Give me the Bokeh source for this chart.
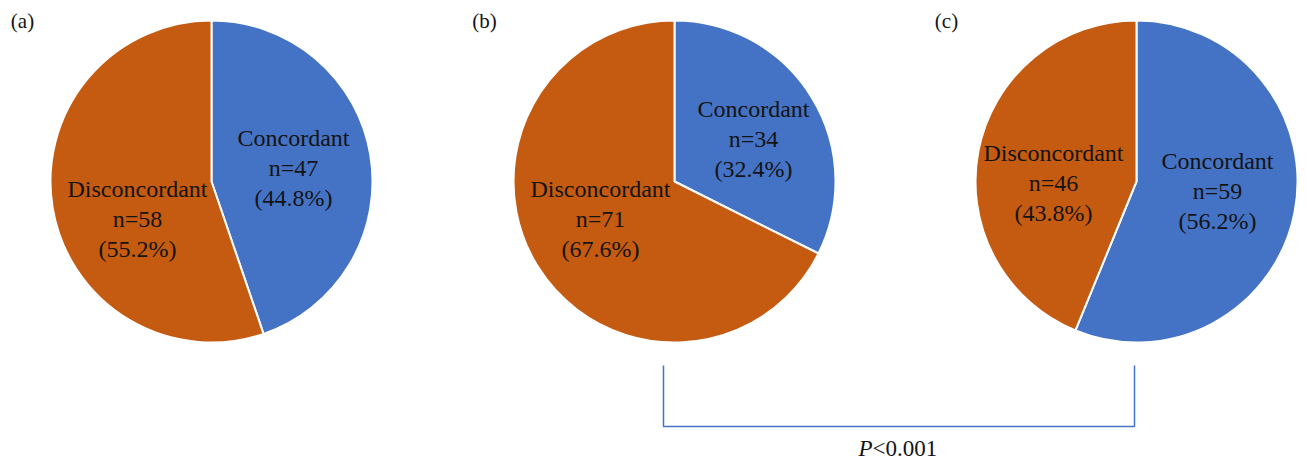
import math
from bokeh.plotting import figure
from bokeh.models import Range1d
from bokeh.core.properties import value
from bokeh.embed import file_html
from bokeh.resources import INLINE

# ---- data ----
panels = ["(a)", "(b)", "(c)"]
categories = ["Concordant", "Disconcordant"]
concordant_n = [47, 34, 59]
disconcordant_n = [58, 71, 46]
concordant_pct = [44.8, 32.4, 56.2]
disconcordant_pct = [55.2, 67.6, 43.8]
p_label_italic = "P"
p_label_rest = "<0.001"

# ---- layout (pixels of the figure) ----
W, H = 1306, 462
BLUE = "#4472C4"
ORANGE = "#C55A11"
TXT = "#141414"
FONT = "Liberation Serif"

centers_x = [211, 674, 1136]
center_y = 181
radius = 161
conc_label_pos = [(293, 137), (753, 108), (1217, 160)]
disc_label_pos = [(137, 188), (600, 188), (1053, 152)]
panel_label_pos = [(22, 20), (484, 20), (946, 20)]
line_gap = 30


def Y(py):
    return H - py


p = figure(width=W, height=H, output_backend="svg", toolbar_location=None,
           x_range=Range1d(0, W), y_range=Range1d(0, H),
           min_border=0)
p.axis.visible = False
p.grid.visible = False
p.outline_line_color = None
p.background_fill_color = "white"
p.border_fill_color = "white"

for i in range(3):
    total = concordant_n[i] + disconcordant_n[i]
    f = concordant_n[i] / total
    top = math.pi / 2
    p.wedge(x=[centers_x[i]], y=[Y(center_y)], radius=radius,
            start_angle=top - 2 * math.pi * f, end_angle=top,
            fill_color=BLUE, line_color="white", line_width=2)
    p.wedge(x=[centers_x[i]], y=[Y(center_y)], radius=radius,
            start_angle=top, end_angle=top + 2 * math.pi * (1 - f),
            fill_color=ORANGE, line_color="white", line_width=2)

    for (lx, ly), name, n, pct in [
        (conc_label_pos[i], categories[0], concordant_n[i], concordant_pct[i]),
        (disc_label_pos[i], categories[1], disconcordant_n[i], disconcordant_pct[i]),
    ]:
        lines = [name, f"n={n}", f"({pct:.1f}%)"]
        p.text(x=[lx] * 3, y=[Y(ly + k * line_gap) for k in range(3)], text=lines,
               text_font=value(FONT), text_font_size="24px", text_color=TXT,
               text_align="center", text_baseline="middle")

    px, py = panel_label_pos[i]
    p.text(x=[px], y=[Y(py)], text=[panels[i]], text_font=value(FONT),
           text_font_size="21px", text_color=TXT, text_align="center",
           text_baseline="middle")

# significance bracket between (b) and (c)
bx0, bx1 = 663, 1134
p.line(x=[bx0, bx0, bx1, bx1], y=[Y(365), Y(426), Y(426), Y(365)],
       line_color=BLUE, line_width=1.5)
p.text(x=[858], y=[Y(448)], text=[p_label_italic], text_font=value(FONT),
       text_font_size="23px", text_font_style="italic", text_color=TXT,
       text_align="left", text_baseline="middle")
p.text(x=[872], y=[Y(448)], text=[p_label_rest], text_font=value(FONT),
       text_font_size="23px", text_color=TXT,
       text_align="left", text_baseline="middle")

open("out.html", "w").write(file_html(p, INLINE))
